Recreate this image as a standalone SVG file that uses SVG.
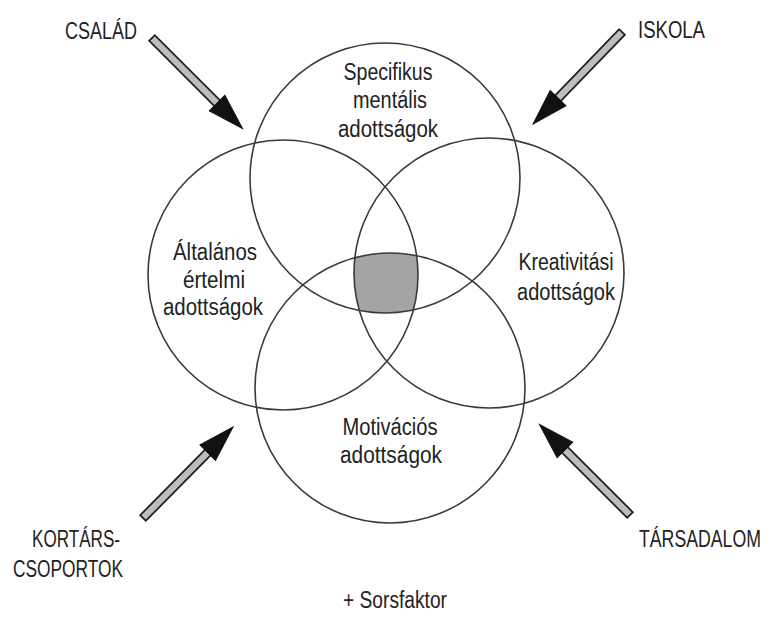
<svg xmlns="http://www.w3.org/2000/svg" xmlns:xlink="http://www.w3.org/1999/xlink" width="773" height="617" viewBox="0 0 773 617">
<style>
.ring{fill:none;stroke:#3a3a3a;stroke-width:1.6}
.lbl{font-family:"Liberation Sans","DejaVu Sans",sans-serif;font-size:23px;fill:#222;text-anchor:middle}
.ext{font-family:"Liberation Sans","DejaVu Sans",sans-serif;font-size:23px;fill:#222}
</style>
<defs>
<clipPath id="cTop"><circle cx="385" cy="178" r="135"/></clipPath>
<clipPath id="cLeft"><circle cx="283" cy="275" r="135"/></clipPath>
<clipPath id="cRight"><circle cx="489" cy="273" r="135"/></clipPath>
<g id="arrow">
<rect x="0" y="-4" width="96" height="8" fill="#bdbdbd" stroke="#222" stroke-width="1.8"/>
<polygon points="92,-11 128,0 92,11" fill="#111" stroke="#111" stroke-width="1"/>
</g>
</defs>
<rect width="773" height="617" fill="#fff"/>
<g id="core" clip-path="url(#cTop)"><g clip-path="url(#cLeft)"><g clip-path="url(#cRight)">
<circle cx="390" cy="388" r="135" fill="#a4a4a4"/>
</g></g></g>
<g id="spec"><circle class="ring" cx="385" cy="178" r="135"/>
<text class="lbl" x="388" y="80" textLength="89" lengthAdjust="spacingAndGlyphs">Specifikus</text>
<text class="lbl" x="390" y="108" textLength="74" lengthAdjust="spacingAndGlyphs">mentális</text>
<text class="lbl" x="388" y="137" textLength="100" lengthAdjust="spacingAndGlyphs">adottságok</text></g>
<g id="alt"><circle class="ring" cx="283" cy="275" r="135"/>
<text class="lbl" x="215" y="260" textLength="84" lengthAdjust="spacingAndGlyphs">Általános</text>
<text class="lbl" x="214" y="288" textLength="62" lengthAdjust="spacingAndGlyphs">értelmi</text>
<text class="lbl" x="213" y="315" textLength="100" lengthAdjust="spacingAndGlyphs">adottságok</text></g>
<g id="krea"><circle class="ring" cx="489" cy="273" r="135"/>
<text class="lbl" x="566" y="270" textLength="95" lengthAdjust="spacingAndGlyphs">Kreativitási</text>
<text class="lbl" x="566" y="300" textLength="98" lengthAdjust="spacingAndGlyphs">adottságok</text></g>
<g id="moti"><circle class="ring" cx="390" cy="388" r="135"/>
<text class="lbl" x="390" y="435" textLength="95" lengthAdjust="spacingAndGlyphs">Motivációs</text>
<text class="lbl" x="391" y="463" textLength="102" lengthAdjust="spacingAndGlyphs">adottságok</text></g>
<g id="csalad"><text class="ext" x="65" y="39" textLength="72" lengthAdjust="spacingAndGlyphs">CSALÁD</text></g>
<g id="iskola"><text class="ext" x="638" y="38" textLength="67" lengthAdjust="spacingAndGlyphs">ISKOLA</text></g>
<g id="kortars"><text class="ext" x="32" y="547" textLength="88" lengthAdjust="spacingAndGlyphs">KORTÁRS-</text>
<text class="ext" x="13" y="577" textLength="110" lengthAdjust="spacingAndGlyphs">CSOPORTOK</text></g>
<g id="tarsadalom"><text class="ext" x="0" y="0" transform="translate(639,547) scale(0.77,1)">TÁRSADALOM</text></g>
<g id="sors"><text class="lbl" x="395" y="608" font-size="21" textLength="104" lengthAdjust="spacingAndGlyphs">+ Sorsfaktor</text></g>
<g id="connectors">
<use xlink:href="#arrow" transform="translate(152,38) rotate(45)"/>
<use xlink:href="#arrow" transform="translate(622,32) rotate(134)"/>
<use xlink:href="#arrow" transform="translate(143,518) rotate(-45.3)"/>
<use xlink:href="#arrow" transform="translate(630,515) rotate(-135)"/>
</g>
</svg>
